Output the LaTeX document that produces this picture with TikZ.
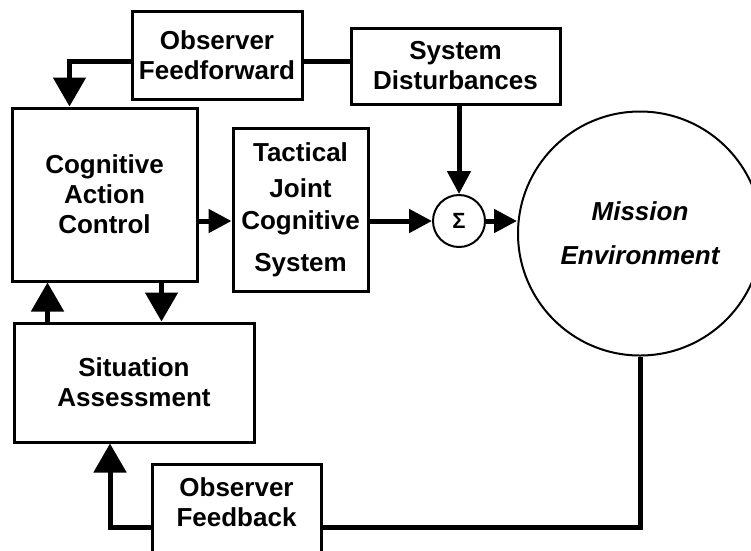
\documentclass[tikz,border=0pt]{standalone}
\usepackage{fontspec}
\setmainfont{Liberation Sans}
\usetikzlibrary{arrows.meta}

\begin{document}
\begin{tikzpicture}
[x=1pt,y=-1pt,
  every node/.style={font=\fontsize{26}{30}\selectfont\bfseries,align=center},%
  blockBox/.style={draw,line width=3pt,inner sep=0pt},
  roundBox/.style={draw,circle,line width=2pt,inner sep=0pt},
  lineDecorate/.style={line width=5pt},
  arrowSmall/.style={lineDecorate,-{Triangle[length=23pt,width=23pt]}},
  arrowBig/.style={lineDecorate,-{Triangle[length=29pt,width=32pt]}}]
\useasboundingbox (0,0) rectangle (751,550);
\node[blockBox,minimum width=170pt,minimum height=88pt] (feedforward) at (217,55) {Observer\\Feedforward};
\node[blockBox,minimum width=209pt,minimum height=76pt] (disturbance) at (455.5,66) {System\\Disturbances};
\node[blockBox,minimum width=185pt,minimum height=173pt] (action) at (104.5,194.5) {Cognitive\\Action\\Control};
\node[blockBox,minimum width=135pt,minimum height=163pt] (tactical) at (300.5,209.5) {Tactical\\[6pt]Joint\\[2pt]Cognitive\\[12pt]System};
\node[blockBox,minimum width=240pt,minimum height=119pt] (assessment) at (134,382.5) {Situation\\Assessment};
\node[blockBox,minimum width=169pt,minimum height=96pt] (feedback) at (236.5,512) {};
\node (feedbackText) at (236.5,502) {Observer\\Feedback};
\node[roundBox,minimum size=52pt,font=\fontsize{22}{22}\selectfont\bfseries] (sum) at (459,221) {Σ};
\node[roundBox,minimum size=244pt,font=\fontsize{26}{30}\selectfont\bfseries\itshape] (environment) at (640,233.5) {Mission\\[14pt]Environment};

\draw[arrowBig] ([yshift=-6pt]feedforward.west) -| ([xshift=59pt]action.north west);
\draw[lineDecorate] ([yshift=-6pt]feedforward.east) -- ([yshift=-6pt]feedforward.east -| disturbance.west);
\draw[arrowSmall] (disturbance.south -| sum.north) -- (sum.north);
\path
\foreach \startNode/\endNode in {action/tactical, tactical/sum, sum/environment}
{
  (\startNode.east |- sum) edge[arrowSmall] (\endNode.west |- sum)
};
\draw[arrowBig] ([xshift=35pt]assessment.north west) -- ([xshift=35pt]assessment.north west |- action.south);
\draw[arrowBig] ([xshift=149pt]assessment.north west |- action.south) -- ([xshift=149pt]assessment.north west);
\draw[lineDecorate] (environment.south) |- ([yshift=-15pt]feedback.east);
\draw[arrowBig] ([yshift=-15pt]feedback.west) -| ([xshift=-24pt]assessment.south);
\end{tikzpicture}
\end{document}
